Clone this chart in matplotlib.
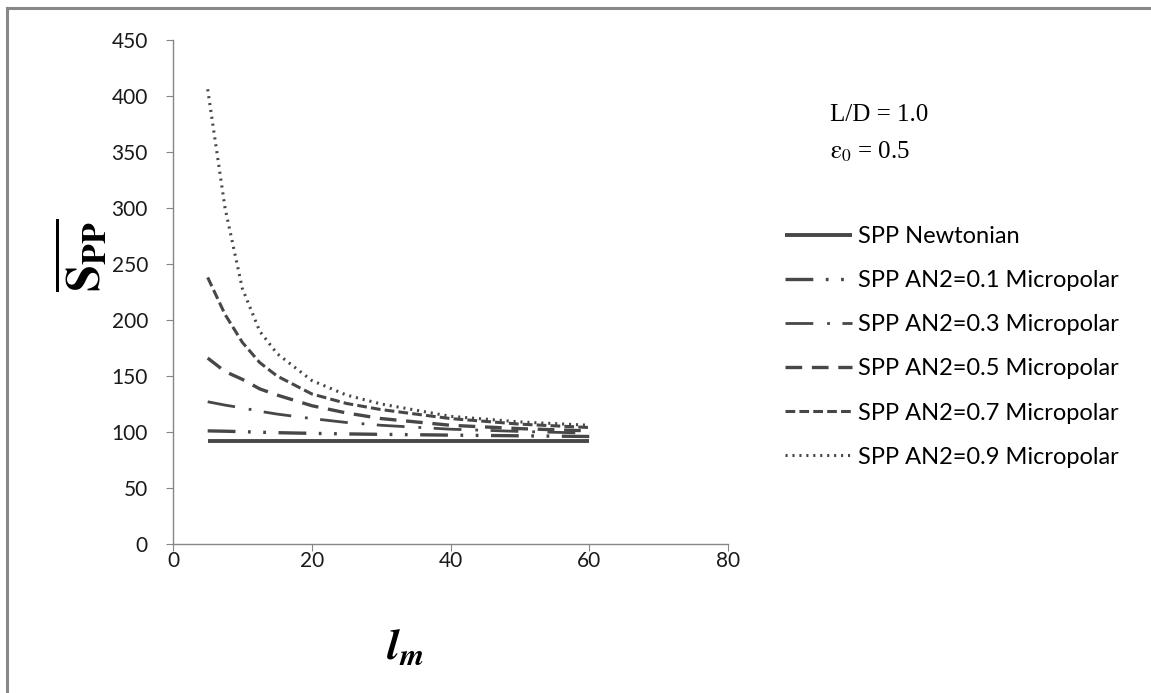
import matplotlib
matplotlib.use("Agg")
import matplotlib.pyplot as plt
from matplotlib.lines import Line2D

plt.rcParams['font.family'] = ['Lato', 'DejaVu Sans']
plt.rcParams['mathtext.fontset'] = 'stix'
plt.rcParams['lines.scale_dashes'] = False

# ---- data ----
lm = [5, 7.5, 10, 12.5, 15, 20, 25, 30, 40, 50, 60]
spp_newtonian = [92, 92, 92, 92, 92, 92, 92, 92, 92, 92, 92]
spp_an01 = [101, 100.7, 100.3, 99.8, 99.4, 98.8, 98.3, 97.9, 97.2, 96.6, 96]
spp_an03 = [127, 124, 121.5, 118.5, 116, 112, 108.5, 106, 102.5, 100.5, 99]
spp_an05 = [166, 154, 147, 138.5, 133, 123.5, 117, 112, 106, 103, 101]
spp_an07 = [238, 205, 180, 162, 150, 134, 125.5, 120, 112, 107, 104]
spp_an09 = [406, 300, 228, 190, 170, 146, 133, 125, 114, 109, 106]

labels = ["SPP Newtonian",
          "SPP AN2=0.1 Micropolar",
          "SPP AN2=0.3 Micropolar",
          "SPP AN2=0.5 Micropolar",
          "SPP AN2=0.7 Micropolar",
          "SPP AN2=0.9 Micropolar"]
yticks = [0, 50, 100, 150, 200, 250, 300, 350, 400, 450]
xticks = [0, 20, 40, 60, 80]

W, H = 1151, 693
fig = plt.figure(figsize=(W / 100, H / 100), dpi=100)
ax = fig.add_axes([173 / W, (H - 544) / H, 555 / W, 504 / H])

col = '#474747'
series = [spp_newtonian, spp_an01, spp_an03, spp_an05, spp_an07, spp_an09]
styles = [
    dict(lw=2.8, ls='-'),
    dict(lw=2.4, ls=(0, (20, 9, 2, 9, 2, 9))),
    dict(lw=2.0, ls=(0, (20, 10, 2, 9))),
    dict(lw=2.4, ls=(0, (12, 7))),
    dict(lw=2.2, ls=(0, (7, 3))),
    dict(lw=2.2, ls=(0, (1.5, 3.5))),
]
for y, st, lab in zip(series, styles, labels):
    ax.plot(lm, y, color=col, solid_capstyle='butt', dash_capstyle='butt', label=lab, **st)

ax.set_xlim(0, 80)
ax.set_ylim(0, 450)
ax.set_xticks(xticks)
ax.set_yticks(yticks)
for s in ['top', 'right']:
    ax.spines[s].set_visible(False)
for s in ['left', 'bottom']:
    ax.spines[s].set_color('#868686')
    ax.spines[s].set_linewidth(1.0)
tickfont = ['Liberation Sans Narrow', 'Lato', 'DejaVu Sans']
ax.tick_params(axis='both', direction='out', length=5, color='#868686',
               labelsize=15, labelcolor='#1a1a1a')
ax.tick_params(axis='y', pad=13)
ax.tick_params(axis='x', pad=0)
for t in ax.get_xticklabels() + ax.get_yticklabels():
    t.set_family(tickfont)

ax.set_xlabel(r'$\mathbfit{l_m}$', fontsize=32)
ax.xaxis.set_label_coords(0.418, -0.162)
ax.set_ylabel(r'$\overline{\mathbf{S_{PP}}}$', fontsize=35)
ax.yaxis.set_label_coords(-0.115, 0.573)

fig.text(830 / W, 1 - 115 / H, 'L/D = 1.0', family='Liberation Serif',
         fontsize=18, va='center', ha='left')
fig.text(830 / W, 1 - 152 / H, r'$\mathrm{ε}_{0}$ = 0.5', family='Liberation Serif',
         fontsize=18, va='center', ha='left')

fig.legend(loc='upper left', bbox_to_anchor=(785 / W, 1 - 226 / H),
           frameon=False, fontsize=17, handlelength=2.83, handletextpad=0.25,
           labelspacing=0.98, borderaxespad=0, borderpad=0)

# outer frame (left and top edges visible)
fig.add_artist(Line2D([7 / W, 7 / W], [0, 1 - 8 / H], transform=fig.transFigure,
                      color='#888888', lw=2.2))
fig.add_artist(Line2D([7 / W, 1], [1 - 8 / H, 1 - 8 / H], transform=fig.transFigure,
                      color='#888888', lw=2.2))

fig.savefig('out.png', dpi=100)
